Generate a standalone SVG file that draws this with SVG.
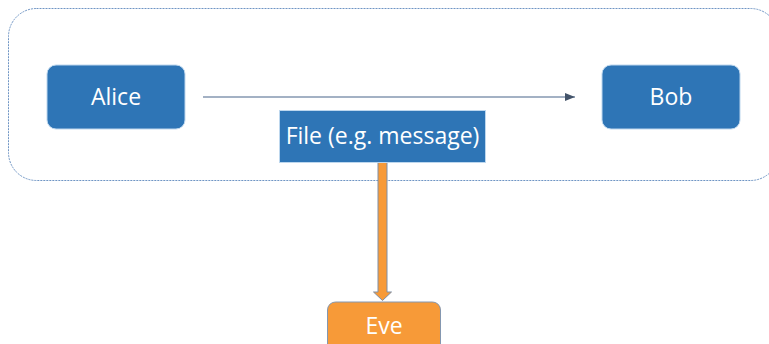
<svg xmlns="http://www.w3.org/2000/svg" width="769" height="344" viewBox="0 0 769 344">
<defs>
<style>
.blue{fill:#2E75B6;stroke:#BDD7EE;stroke-width:1}
.lbl{font-family:"Open Sans","Noto Sans","Liberation Sans",sans-serif;font-size:23px;fill:#FFFFFF;text-anchor:middle}
</style>
<marker id="ah" viewBox="0 0 10 10" refX="10" refY="5" markerWidth="10" markerHeight="10" markerUnits="userSpaceOnUse" orient="auto">
<path d="M0,1 L10,5 L0,9 Z" fill="#44546A"/>
</marker>
</defs>
<g id="frame">
<rect x="8.5" y="8.5" width="770" height="172" rx="28" ry="28" fill="none" stroke="#6F95C4" stroke-width="1" stroke-dasharray="2,1"/>
</g>
<g id="connectors">
<line x1="203" y1="97" x2="575" y2="97" stroke="#8497B0" stroke-width="1.3" marker-end="url(#ah)"/>
<path d="M378,162 L387,162 L387,292 L391.5,292 L382.5,300.5 L373.5,292 L378,292 Z" fill="#F79A38" stroke="#7F8FA6" stroke-width="1"/>
</g>
<g id="alice">
<rect class="blue" x="47" y="65" width="138" height="64" rx="9"/>
<text class="lbl" x="116" y="105">Alice</text>
</g>
<g id="bob">
<rect class="blue" x="602" y="65" width="138" height="64" rx="9"/>
<text class="lbl" x="671" y="105">Bob</text>
</g>
<g id="file">
<rect class="blue" x="279.5" y="110.5" width="206" height="52"/>
<text class="lbl" x="382.5" y="144">File (e.g. message)</text>
</g>
<g id="eve">
<rect x="327.5" y="302" width="113" height="60" rx="8" fill="#F79A38" stroke="#8497B0" stroke-width="1"/>
<text class="lbl" x="384" y="334">Eve</text>
</g>
</svg>
